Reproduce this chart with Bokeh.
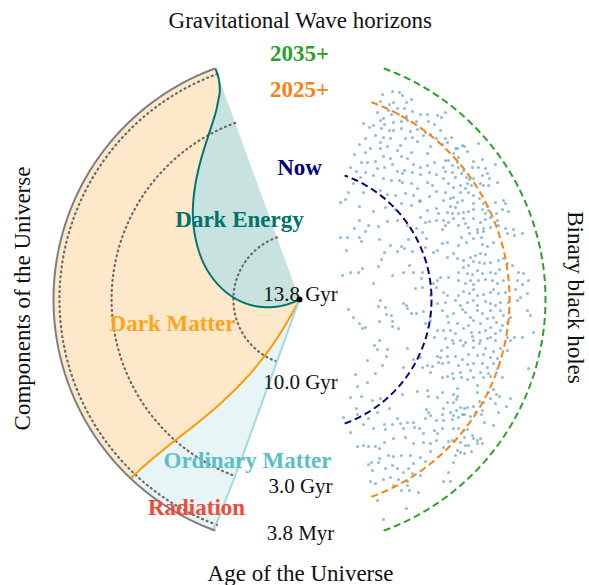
import numpy as np
from bokeh.plotting import figure
from bokeh.models import Range1d
from bokeh.core.properties import value
from bokeh.embed import file_html
from bokeh.resources import INLINE

# ---------------- data ----------------
ages_gyr = [13.8, 13.0, 12.0, 11.0, 10.0, 9.0, 8.0, 7.0, 6.0, 5.0, 4.0, 3.0,
            2.0, 1.5, 1.0, 0.5, 0.2, 0.0038]
frac_dark_energy = [0.690, 0.653, 0.602, 0.547, 0.487, 0.423, 0.358, 0.291, 0.227, 0.165,
                    0.110, 0.064, 0.029, 0.017, 0.007, 0.002, 0.0003, 0.0]
frac_dark_matter = [0.260, 0.290, 0.333, 0.379, 0.429, 0.483, 0.537, 0.593, 0.647, 0.699,
                    0.745, 0.783, 0.812, 0.8215, 0.8295, 0.833, 0.834, 0.8337]
frac_ordinary = [0.050, 0.057, 0.065, 0.074, 0.084, 0.094, 0.105, 0.116, 0.126, 0.136,
                 0.145, 0.1525, 0.158, 0.160, 0.1615, 0.1625, 0.1627, 0.1623]
frac_radiation = [0, 0, 0, 0, 0, 0, 0, 0, 0, 0,
                  0, 0.0005, 0.001, 0.0015, 0.002, 0.0025, 0.003, 0.004]

component_names = ["Dark Energy", "Dark Matter", "Ordinary Matter", "Radiation"]

tick_ages = [13.8, 10.0, 3.0, 0.0038]
tick_labels = ["13.8 Gyr", "10.0 Gyr", "3.0 Gyr", "3.8 Myr"]

horizon_labels = ["Now", "2025+", "2035+"]
horizon_radius = [132, 210, 246]

# binary black hole sample (x, y) in distance units
bbh_xy = [
 (83,205),(93,208),(100,207),(103,204),(112,200),(81,198),(94,197),(107,197),(90,195),(98,191),
 (105,191),(113,188),(121,185),(128,185),(138,184),(89,189),(78,187),(84,181),(92,185),(99,185),
 (107,183),(81,179),(74,174),(70,172),(64,176),(85,175),(94,177),(102,178),(108,179),(117,178),
 (129,178),(135,175),(82,171),(90,169),(94,169),(102,171),(111,168),(118,170),(126,167),(131,165),
 (137,161),(66,161),(76,164),(84,162),(91,161),(106,161),(113,162),(124,164),(71,151),(81,157),
 (88,153),(101,154),(118,158),(131,153),(60,155),(66,147),(81,151),(98,149),(112,147),(128,146),
 (55,145),(62,137),(68,137),(76,138),(84,143),(91,141),(102,143),(108,141),(114,135),(121,132),
 (128,134),(135,137),(51,132),(57,128),(66,127),(78,131),(85,132),(93,135),(98,128),(103,126),
 (105,129),(113,127),(121,125),(130,127),(137,125),(61,122),(74,124),(84,121),(92,119),(100,119),
 (103,117),(112,116),(118,111),(128,117),(133,114),(54,116),(46,100),(41,97),(49,107),(64,107),
 (81,109),(88,105),(96,104),(106,106),(114,104),(121,99),(130,103),(137,108),(60,93),(74,88),
 (86,92),(96,90),(102,96),(112,94),(120,98),(128,89),(137,91),(139,86),(60,79),(69,74),
 (79,73),(88,78),(98,79),(108,74),(121,82),(126,77),(130,78),(137,79),(55,71),(117,71),
 (146,187),(142,182),(141,169),(146,161),(152,162),(148,157),(143,155),(156,151),(158,151),(163,154),
 (165,153),(168,148),(179,156),(154,146),(159,142),(149,139),(146,139),(153,134),(144,132),(158,137),
 (159,132),(164,129),(174,138),(183,140),(173,132),(179,132),(186,131),(196,135),(146,128),(153,127),
 (162,126),(156,122),(167,122),(170,120),(168,116),(174,121),(183,124),(188,126),(190,121),(144,121),
 (149,116),(161,114),(154,112),(166,111),(172,114),(181,116),(184,114),(198,117),(189,114),(174,104),
 (169,107),(161,107),(154,102),(146,107),(144,99),(151,101),(158,97),(163,99),(174,96),(180,101),
 (184,96),(188,93),(196,97),(204,99),(206,96),(151,93),(156,92),(174,90),(183,90),(189,89),
 (203,90),(148,87),(153,86),(159,86),(164,87),(169,88),(186,86),(197,86),(209,88),(144,79),
 (149,77),(154,81),(164,81),(174,81),(166,76),(181,77),(186,80),(191,82),(198,79),(199,74),
 (159,74),(169,72),(178,70),(184,71),(191,72),(206,71),(214,70),(143,70),(146,74),
 (41,62),(48,62),(60,62),(62,58),(66,68),(80,60),(91,54),(102,53),(105,51),(109,60),
 (47,49),(85,47),(98,48),(113,48),(123,67),(127,61),(126,52),(134,47),(138,49),(82,40),
 (79,33),(110,34),(43,24),(51,27),(59,27),(63,31),(93,24),(104,27),(114,27),(123,27),
 (122,21),(138,19),(134,16),(74,16),(116,11),(123,12),(137,12),(131,4),(138,-4),(81,-1),
 (79,-7),(86,-8),(104,-4),(107,-6),(108,-9),(112,-14),(117,-14),(124,-12),(49,-10),(54,-18),
 (60,-24),(63,-29),(66,-28),(80,-22),(87,-15),(92,-16),(93,-22),(93,-27),(99,-29),(126,-24),
 (131,-21),(138,-31),(135,-38),(80,-41),(75,-46),(78,-50),(88,-50),(87,-57),(108,-49),(68,-61),
 (83,-66),(104,-68),(114,-60),(121,-58),(123,-68),(128,-66),(133,-67),(138,-57),(139,-63),(56,-75),
 (76,-74),(131,-73),
 (143,56),(148,57),(159,54),(162,62),(167,57),(170,66),(174,61),(178,67),(182,62),(184,68),
 (183,55),(188,53),(194,57),(208,66),(215,64),(223,66),(148,42),(154,46),(158,41),(164,39),
 (171,42),(176,44),(181,46),(186,45),(174,38),(180,37),(185,36),(191,37),(199,39),(204,41),
 (208,36),(213,34),(169,34),(164,32),(159,27),(168,26),(173,25),(178,29),(183,26),(191,27),
 (196,26),(200,30),(219,27),(224,26),(141,22),(149,22),(159,19),(166,16),(171,19),(174,15),
 (179,19),(186,20),(193,19),(198,16),(204,19),(218,19),(223,15),(229,19),(144,7),(148,4),
 (159,4),(164,8),(170,6),(174,10),(178,4),(184,5),(191,7),(194,10),(199,6),(206,7),
 (216,10),(221,2),(228,6),(146,-3),(156,-1),(161,-6),(168,-3),(174,-1),(178,-6),(186,-2),
 (191,-4),(196,-6),(201,-3),(209,-3),(218,-1),(228,-11),(143,-11),(148,-17),(154,-14),(163,-10),
 (166,-13),(171,-18),(178,-11),(183,-14),(191,-11),(194,-18),(201,-11),(204,-16),(211,-18),(231,-16),
 (149,-23),(158,-24),(164,-29),(169,-26),(174,-21),(181,-24),(188,-19),(191,-28),(197,-23),(203,-26),
 (208,-23),(144,-31),(151,-31),(156,-34),(172,-33),(173,-37),(180,-33),(186,-31),(191,-38),(196,-34),
 (201,-31),(208,-38),(215,-38),(223,-38),(234,-33),(146,-39),(153,-41),(161,-41),(166,-43),(174,-41),
 (181,-41),(188,-39),(196,-41),(211,-41),(148,-48),(154,-44),(164,-46),(174,-48),(180,-44),(186,-49),
 (194,-52),(201,-49),(208,-51),(148,-57),(156,-57),(163,-60),(169,-55),(178,-56),(184,-55),(191,-58),
 (198,-59),(143,-64),(149,-63),(159,-66),(168,-65),(174,-64),(183,-64),(188,-68),(194,-64),(153,-74),
 (161,-73),(171,-71),(181,-73),(189,-74),(198,-69),(229,-69),(141,-58),(142,-51),
 (44,-118),(51,-98),(58,-87),(62,-97),(68,-83),(73,-101),(81,-99),(103,-95),(118,-92),(128,-91),
 (129,-97),(138,-98),(57,-109),(58,-115),(51,-133),(64,-125),(69,-119),(74,-129),(78,-113),(85,-125),
 (86,-130),(90,-109),(93,-125),(98,-119),(101,-124),(104,-129),(108,-123),(114,-123),(115,-128),(120,-129),
 (126,-119),(127,-110),(129,-113),(131,-116),(137,-121),(135,-131),(138,-134),(124,-134),(106,-138),(94,-139),
 (85,-143),(80,-149),(76,-147),(69,-147),(64,-146),(58,-147),(114,-144),(124,-143),(131,-144),(137,-141),
 (131,-152),(126,-162),(121,-158),(111,-156),(102,-156),(94,-157),(89,-156),(80,-159),(72,-163),(69,-165),
 (73,-171),(79,-163),(86,-169),(93,-166),(98,-169),(104,-173),(109,-169),(114,-164),(113,-174),(121,-176),
 (71,-182),(76,-184),(84,-180),(91,-178),(99,-180),(108,-182),(110,-191),(78,-201),(107,-209),(84,-220),
 (119,-193),(108,-186),(102,-191),(94,-186),
 (143,-78),(148,-77),(154,-79),(162,-78),(168,-80),(174,-78),(178,-86),(184,-78),(191,-77),(203,-78),
 (143,-93),(154,-95),(158,-89),(158,-97),(148,-103),(154,-103),(157,-100),(161,-108),(165,-109),(168,-108),
 (174,-107),(178,-93),(180,-102),(184,-103),(189,-93),(191,-99),(194,-90),(197,-95),(200,-97),(196,-104),
 (199,-113),(207,-107),(211,-99),(144,-109),(143,-115),(151,-113),(154,-116),(157,-111),(153,-120),(159,-118),
 (163,-115),(165,-115),(171,-117),(176,-113),(183,-111),(182,-115),(185,-123),(194,-126),(144,-121),(143,-129),
 (154,-129),(159,-129),(164,-131),(168,-130),(173,-136),(174,-139),(165,-138),(161,-143),(166,-146),(169,-146),
 (172,-152),(178,-144),(183,-144),(153,-141),(149,-142),(144,-148),(158,-151),(156,-156),(154,-163),(161,-153),
 (165,-154),(149,-173),(144,-182),(151,-182),(178,-141),(181,-139),
]
bbh_x = [pt[0] for pt in bbh_xy]
bbh_y = [pt[1] for pt in bbh_xy]

# ---------------- layout / style ----------------
AGE_NOW = 13.8
GYR_SCALE = 17.4          # distance units per Gyr of lookback time
R_EDGE = 246              # outer edge of the components wedge
THETA_START = 110.0       # degrees, top edge of the wedge
THETA_SPAN = 140.0
HORIZON_HALF_SPAN = 70.0

SERIF = value("Liberation Serif")
comp_fill = ["#c8e2e0", "#fde8c9", "#e7f5f6", "#fbd3ce"]
comp_text = ["#00736f", "#ffa31a", "#5bbfc8", "#f04a3a"]
horizon_colors = ["#000080", "#ff7f0e", "#2ca02c"]
# annotation anchor points for the component names
comp_label_x = [-60, -127, -52, -103]
comp_label_y = [80, -24, -161, -208]
tick_label_nudge = [6, -16, 1, 7]


def pol(r, th_deg):
    t = np.radians(th_deg)
    return np.asarray(r) * np.cos(t), np.asarray(r) * np.sin(t)


def pchip(x, y, xn):
    """Monotone cubic rendering of a sampled curve (Fritsch-Carlson)."""
    x = np.asarray(x, float); y = np.asarray(y, float)
    h = np.diff(x); d = np.diff(y) / h
    n = len(x); m = np.zeros(n)
    m[0], m[-1] = d[0], d[-1]
    for k in range(1, n - 1):
        if d[k - 1] * d[k] > 0:
            w1 = 2 * h[k] + h[k - 1]; w2 = h[k] + 2 * h[k - 1]
            m[k] = (w1 + w2) / (w1 / d[k - 1] + w2 / d[k])
    xn = np.clip(xn, x[0], x[-1])
    idx = np.clip(np.searchsorted(x, xn) - 1, 0, n - 2)
    t = (xn - x[idx]) / h[idx]
    h00 = 2 * t**3 - 3 * t**2 + 1; h10 = t**3 - 2 * t**2 + t
    h01 = -2 * t**3 + 3 * t**2; h11 = t**3 - t**2
    return h00 * y[idx] + h10 * h[idx] * m[idx] + h01 * y[idx + 1] + h11 * h[idx] * m[idx + 1]


p = figure(width=589, height=585, x_range=Range1d(-299, 290), y_range=Range1d(-286, 299),
           output_backend="svg", toolbar_location=None, min_border=0,
           x_axis_type=None, y_axis_type=None, outline_line_color=None,
           background_fill_color="white", border_fill_color="white")
p.grid.visible = False

ages = np.array(ages_gyr)
r_data = GYR_SCALE * (AGE_NOW - ages)
fde = np.array(frac_dark_energy)
fdm = np.array(frac_dark_matter)
fom = np.array(frac_ordinary)
cums = [np.zeros_like(fde), fde, fde + fdm, fde + fdm + fom, np.ones_like(fde)]
r_dense = np.linspace(0, R_EDGE, 600)
thetas = [pchip(r_data, THETA_START + THETA_SPAN * c, r_dense) for c in cums]

# filled component regions
for k in range(4):
    ta, tb = thetas[k], thetas[k + 1]
    xa, ya = pol(r_dense, ta)
    arc_t = np.linspace(ta[-1], tb[-1], 100)
    xo, yo = pol(np.full_like(arc_t, R_EDGE), arc_t)
    xb, yb = pol(r_dense[::-1], tb[::-1])
    p.patch(np.concatenate([xa, xo, xb]), np.concatenate([ya, yo, yb]),
            fill_color=comp_fill[k], line_color=None)

# dotted age circles
for age in tick_ages:
    rr = GYR_SCALE * (AGE_NOW - age)
    if rr <= 0:
        continue
    tt = np.linspace(THETA_START, THETA_START + THETA_SPAN, 200)
    x, y = pol(np.full_like(tt, rr), tt)
    p.line(x, y, line_color="#6a6a6a", line_width=2.2, line_dash="1 4", line_cap="round")

# boundary lines
bcol = ["#00736f", "#ff9900", "#a3dae1"]
for k, col in zip([1, 2, 3], bcol):
    x, y = pol(r_dense, thetas[k])
    p.line(x, y, line_color=col, line_width=2)

# outer edge
tt = np.linspace(THETA_START, THETA_START + THETA_SPAN, 300)
x, y = pol(np.full_like(tt, R_EDGE), tt)
p.line(x, y, line_color="#7f7f7f", line_width=2)

# binary black holes
p.scatter(bbh_x, bbh_y, size=3, fill_color="#1f77b4", fill_alpha=0.5, line_color=None)

# horizons
for rh, col in zip(horizon_radius, horizon_colors):
    tt = np.linspace(-HORIZON_HALF_SPAN, HORIZON_HALF_SPAN, 300)
    x, y = pol(np.full_like(tt, rh), tt)
    p.line(x, y, line_color=col, line_width=2, line_dash="7 4")

p.text(x=[0] * 3, y=horizon_radius, text=horizon_labels, text_color=horizon_colors,
       text_font=SERIF, text_font_style="bold", text_font_size="23px",
       text_align="center", text_baseline="middle")

# center point
p.scatter([0], [0], size=6, fill_color="black", line_color=None)

# age tick labels
tick_r = [GYR_SCALE * (AGE_NOW - a) for a in tick_ages]
p.text(x=[1] * 4, y=[-r + n for r, n in zip(tick_r, tick_label_nudge)], text=tick_labels,
       text_color="#111111", text_font=SERIF, text_font_size="21px",
       text_align="center", text_baseline="middle")

# component names
p.text(x=comp_label_x, y=comp_label_y, text=component_names, text_color=comp_text,
       text_font=SERIF, text_font_style="bold", text_font_size="23px",
       text_align="center", text_baseline="middle")

# titles
p.text(x=[1], y=[279], text=["Gravitational Wave horizons"], text_color="#111111",
       text_font=SERIF, text_font_size="23px", text_align="center", text_baseline="middle")
p.text(x=[1], y=[-274], text=["Age of the Universe"], text_color="#111111",
       text_font=SERIF, text_font_size="23px", text_align="center", text_baseline="middle")
p.text(x=[-277], y=[1], text=["Components of the Universe"], angle=[np.pi / 2],
       text_color="#111111", text_font=SERIF, text_font_size="23px",
       text_align="center", text_baseline="middle")
p.text(x=[276], y=[2], text=["Binary black holes"], angle=[-np.pi / 2],
       text_color="#111111", text_font=SERIF, text_font_size="23px",
       text_align="center", text_baseline="middle")

open("out.html", "w").write(file_html(p, INLINE))
